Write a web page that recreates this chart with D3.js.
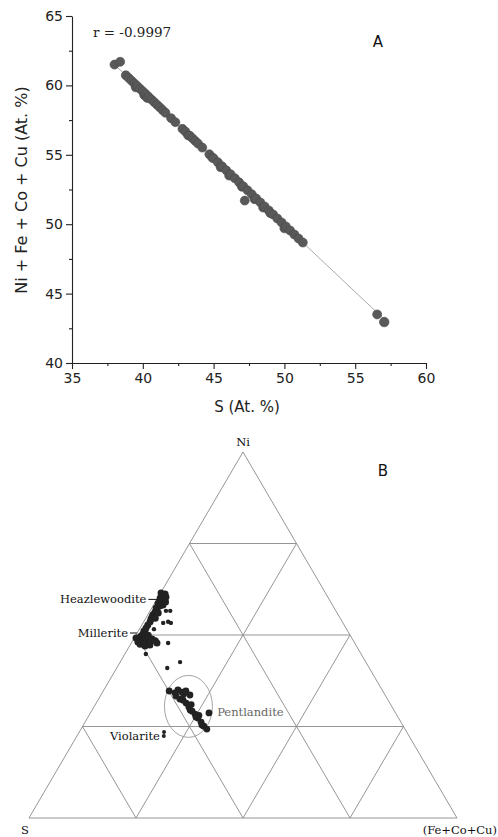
<!DOCTYPE html>
<html>
<head>
<meta charset="utf-8">
<script src="https://cdn.jsdelivr.net/npm/d3@7"></script>
<style>
  body { margin: 0; background: #fff; }
  svg { display: block; }
</style>
</head>
<body>
<svg id="fig" width="498" height="837"></svg>
<script>
// ---- panel A : S vs Ni+Fe+Co+Cu (At. %)
var sAt = [38.0, 38.4, 38.8, 39.0, 39.2, 39.4, 39.5, 39.6, 39.8, 40.0, 40.1, 40.2, 40.3, 40.4, 40.6, 40.8, 41.0, 41.2, 41.4, 41.6,
  42.0, 42.3,
  42.8, 43.0, 43.2, 43.3, 43.5, 43.7, 43.9, 44.2,
  44.7, 44.9, 45.0, 45.3, 45.5, 45.6, 45.9, 46.1, 46.2, 46.5, 46.8, 47.0, 47.1, 47.4, 47.7, 47.9, 48.0, 48.3, 48.5, 48.6, 48.9, 49.0, 49.2, 49.5, 49.8, 50.0, 50.1, 50.4, 50.7, 51.0, 51.3,
  47.2, 56.55, 57.05];
var metalAt = [61.5, 61.7, 60.73, 60.54, 60.34, 60.15, 59.86, 59.96, 59.76, 59.57, 59.3, 59.38, 59.1, 59.19, 58.99, 58.80, 58.61, 58.42, 58.22, 58.03,
  57.64, 57.35,
  56.87, 56.68, 56.4, 56.39, 56.20, 56.00, 55.81, 55.52,
  55.04, 54.8, 54.75, 54.46, 54.1, 54.17, 53.88, 53.5, 53.60, 53.31, 53.02, 52.7, 52.73, 52.44, 52.15, 51.8, 51.86, 51.57, 51.2, 51.28, 50.99, 50.8, 50.70, 50.41, 50.13, 49.7, 49.84, 49.55, 49.26, 48.97, 48.68,
  51.7, 43.5, 42.95];
var fitLine = [[38.0, 61.5], [57.3, 42.9]];
var xTicks = [35, 40, 45, 50, 55, 60];
var yTicks = [40, 45, 50, 55, 60, 65];

// ---- panel B : ternary Ni - S - (Fe+Co+Cu), rows are [Ni, S, Fe+Co+Cu]
var heazMillPts = [[61.5, 38.4, 0.1], [60.7, 38.3, 1.0], [60.1, 39.3, 0.6], [59.3, 39.3, 1.4], [61.2, 37.6, 1.2],
  [60.4, 37.8, 1.8], [59.0, 38.6, 2.4], [58.2, 39.6, 2.2],
  [58.7, 40.5, 0.8], [57.9, 40.5, 1.6], [57.4, 41.6, 1.0], [56.6, 41.8, 1.6], [56.3, 42.4, 1.3], [55.5, 43.3, 1.2],
  [56.0, 41.8, 2.2], [54.6, 43.2, 2.2],
  [54.9, 43.8, 1.3], [54.4, 44.3, 1.3], [53.6, 44.9, 1.5], [52.7, 45.9, 1.4], [51.9, 46.7, 1.4], [51.1, 47.6, 1.3],
  [50.3, 48.2, 1.5], [49.7, 49.0, 1.3], [48.9, 49.9, 1.2], [48.1, 50.5, 1.4], [47.5, 50.3, 2.2], [48.4, 49.1, 2.5],
  [48.6, 48.4, 3.0], [49.2, 47.4, 3.4], [48.9, 46.8, 4.3], [48.4, 46.3, 5.3], [47.8, 46.2, 6.0], [47.3, 48.1, 4.6],
  [47.0, 49.4, 3.6], [49.2, 50.4, 0.4], [49.9, 47.2, 2.9], [50.6, 47.6, 1.8]];
var scatterPts = [[56.6, 39.7, 3.7], [56.6, 38.7, 4.7], [53.3, 42.0, 4.7], [53.6, 40.7, 5.7], [53.3, 40.2, 6.5],
  [51.6, 45.0, 3.4], [47.8, 43.6, 8.6], [44.8, 50.3, 4.9], [42.6, 43.4, 14.0], [41.0, 47.2, 11.8]];
var pentlPts = [[35.0, 47.7, 17.3], [34.4, 47.1, 18.5], [34.7, 46.0, 19.3], [33.6, 45.6, 20.8], [33.3, 49.0, 17.7],
  [32.5, 48.5, 19.0], [32.2, 47.9, 19.9], [34.2, 48.8, 17.0], [31.4, 47.6, 21.0], [30.3, 47.5, 22.2], [29.2, 47.3, 23.5],
  [28.4, 47.0, 24.6], [27.3, 46.9, 25.8], [26.2, 46.7, 27.1], [25.1, 46.6, 28.3], [24.3, 46.3, 29.4], [29.5, 47.6, 22.9],
  [27.6, 47.2, 25.2], [25.4, 46.9, 27.7], [28.7, 43.6, 27.7], [34.7, 49.9, 15.4], [33.9, 46.9, 19.2], [31.0, 46.6, 22.4],
  [28.0, 46.3, 25.7]];
var violPts = [[23.5, 56.7, 19.8], [22.4, 57.3, 20.3]];
var minerals = ["Heazlewoodite", "Millerite", "Pentlandite", "Violarite"];
var mineralComp = [[60, 40, 0], [50, 50, 0], [26.5, 47, 26.5], [23, 57, 20]];
var gridSteps = [0.25, 0.5, 0.75];

var svg = d3.select("#fig");
svg.append("rect").attr("width", 498).attr("height", 837).attr("fill", "#fff");

// ================= panel A
var x = d3.scaleLinear().domain([35, 60]).range([72, 426]);
var y = d3.scaleLinear().domain([40, 65]).range([363, 16]);
var sans = "DejaVu Sans";

svg.append("g").attr("transform", "translate(0,363)")
  .call(d3.axisBottom(x).tickValues(xTicks).tickSize(6).tickSizeOuter(0).tickPadding(4).tickFormat(d3.format("d")));
svg.append("g").attr("transform", "translate(72,0)")
  .call(d3.axisLeft(y).tickValues(yTicks).tickSize(6).tickSizeOuter(0).tickPadding(3).tickFormat(d3.format("d")));
// minor ticks
svg.append("g").attr("transform", "translate(0,363)")
  .call(d3.axisBottom(x).tickValues([37.5, 42.5, 47.5, 52.5, 57.5]).tickSize(3).tickSizeOuter(0).tickFormat(""))
  .select(".domain").remove();
svg.append("g").attr("transform", "translate(72,0)")
  .call(d3.axisLeft(y).tickValues([42.5, 47.5, 52.5, 57.5, 62.5]).tickSize(3).tickSizeOuter(0).tickFormat(""))
  .select(".domain").remove();
svg.selectAll(".tick text").style("font-family", sans).style("font-size", "14px").attr("fill", "#222");
svg.selectAll(".domain, .tick line").attr("stroke", "#222").attr("stroke-width", 1.1);

svg.append("text").attr("x", 247).attr("y", 412).attr("text-anchor", "middle")
  .style("font-family", sans).style("font-size", "15px").attr("fill", "#222").text("S (At. %)");
svg.append("text").attr("transform", "translate(27,190) rotate(-90)").attr("text-anchor", "middle")
  .style("font-family", sans).style("font-size", "16px").attr("fill", "#222").text("Ni + Fe + Co + Cu (At. %)");
svg.append("text").attr("x", 93).attr("y", 37)
  .style("font-family", "DejaVu Serif").style("font-size", "13.5px").attr("fill", "#222").text("r = -0.9997");
svg.append("text").attr("x", 378).attr("y", 47).attr("text-anchor", "middle")
  .style("font-family", sans).style("font-size", "15px").attr("fill", "#111").text("A");

svg.append("line")
  .attr("x1", x(fitLine[0][0])).attr("y1", y(fitLine[0][1]))
  .attr("x2", x(fitLine[1][0])).attr("y2", y(fitLine[1][1]))
  .attr("stroke", "#aaa").attr("stroke-width", 1);

svg.append("g").selectAll("circle")
  .data(sAt)
  .enter()
  .append("circle")
  .attr("cx", function (d) { return x(d); })
  .attr("cy", function (d, i) { return y(metalAt[i]); })
  .attr("r", function (d) { return d > 57 ? 4.8 : 4.5; })
  .attr("fill", "#595959")
  .attr("stroke", "#4a4a4a")
  .attr("stroke-width", 0.6);

// ================= panel B
var tx = d3.scaleLinear().domain([0, 1]).range([29, 457]);
var ty = d3.scaleLinear().domain([0, 1]).range([818, 452]);
function tern(p) { // p = [Ni, S, M] in % or fraction
  var t = p[0] + p[1] + p[2];
  var ni = p[0] / t, m = p[2] / t;
  return [tx(m + ni / 2), ty(ni)];
}

var segs = [[[1, 0, 0], [0, 1, 0]], [[0, 1, 0], [0, 0, 1]], [[0, 0, 1], [1, 0, 0]]];
gridSteps.forEach(function (k) {
  segs.push([[k, 1 - k, 0], [k, 0, 1 - k]]);   // constant Ni
  segs.push([[0, 1 - k, k], [1 - k, 0, k]]);   // constant Fe+Co+Cu
  segs.push([[0, k, 1 - k], [1 - k, k, 0]]);   // constant S
});
svg.append("g").selectAll("line")
  .data(segs)
  .enter()
  .append("line")
  .attr("x1", function (d) { return tern(d[0])[0]; })
  .attr("y1", function (d) { return tern(d[0])[1]; })
  .attr("x2", function (d) { return tern(d[1])[0]; })
  .attr("y2", function (d) { return tern(d[1])[1]; })
  .attr("stroke", "#8a8a8a")
  .attr("stroke-width", 0.9);

// circle round the pentlandite field
var pc = tern([30.5, 47.5, 22.0]);
svg.append("ellipse").attr("cx", pc[0]).attr("cy", pc[1]).attr("rx", 24).attr("ry", 31)
  .attr("fill", "none").attr("stroke", "#999").attr("stroke-width", 0.9);

function dots(pts, r) {
  svg.append("g").selectAll("circle")
    .data(pts)
    .enter()
    .append("circle")
    .attr("cx", function (d) { return tern(d)[0]; })
    .attr("cy", function (d) { return tern(d)[1]; })
    .attr("r", r)
    .attr("fill", "#222");
}
dots(heazMillPts, 3.5);
dots(scatterPts, 2.2);
dots(pentlPts, 3.4);
dots(violPts, 2.0);

var serif = "DejaVu Serif";
function lab(txt, px, py, anchor, col) {
  svg.append("text").attr("x", px).attr("y", py).attr("text-anchor", anchor)
    .style("font-family", serif).style("font-size", "11.5px").attr("fill", col || "#111").text(txt);
}
var hz = tern(mineralComp[0]), ml = tern(mineralComp[1]), pn = tern(mineralComp[2]), vl = tern(mineralComp[3]);
lab(minerals[0], hz[0] - 11, hz[1] + 5, "end");
svg.append("line").attr("x1", hz[0] - 9).attr("x2", hz[0]).attr("y1", hz[1] + 1).attr("y2", hz[1] + 1).attr("stroke", "#111");
lab(minerals[1], ml[0] - 8, ml[1] + 2, "end");
svg.append("line").attr("x1", ml[0] - 6).attr("x2", ml[0] + 1).attr("y1", ml[1] - 2).attr("y2", ml[1] - 2).attr("stroke", "#111");
lab(minerals[2], pn[0] + 18, pn[1] - 5, "start", "#666");
lab(minerals[3], vl[0] - 4, vl[1] + 6, "end");

lab("Ni", tern([1, 0, 0])[0], 446, "middle");
lab("S", 25, 834, "middle");
lab("(Fe+Co+Cu)", 497, 834, "end");
svg.append("text").attr("x", 383).attr("y", 476).attr("text-anchor", "middle")
  .style("font-family", sans).style("font-size", "15px").attr("fill", "#111").text("B");
</script>
</body>
</html>
